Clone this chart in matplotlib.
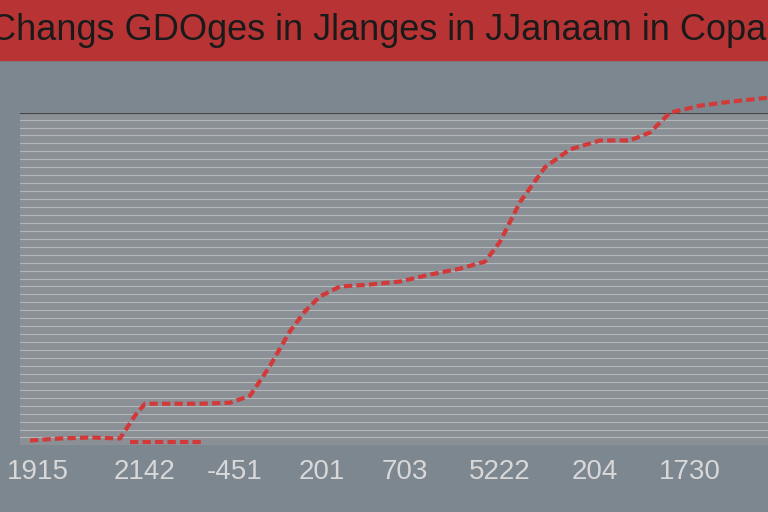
import matplotlib
matplotlib.use("Agg")
import matplotlib.pyplot as plt

x_pos = [30, 60, 90, 120, 135, 145, 170, 200, 230, 250, 270, 290, 305, 320, 340, 370, 400, 430, 460, 485, 500, 520, 545, 570, 600, 630, 650, 670, 700, 730, 768]
values = [5, 7, 8, 7, 30, 42, 42, 42, 43, 50, 80, 115, 135, 150, 160, 162, 165, 172, 178, 185, 205, 245, 280, 298, 307, 307, 315, 335, 342, 346, 350]
low_x = [130, 160, 205]
low_v = [3, 3, 3]
tick_pos = [38, 145, 235, 322, 405, 500, 595, 690]
tick_labels = ["1915", "2142", "-451", "201", "703", "5222", "204", "1730"]

fig = plt.figure(figsize=(7.68, 5.12), dpi=100)
fig.patch.set_facecolor("#7d8790")
fig.patches.append(plt.Rectangle((0, 0.883), 1, 0.117, transform=fig.transFigure, color="#b83434", zorder=0))
fig.text(0.5, 0.94, "Changs GDOges in Jlanges in JJanaam in Copar", ha="center", va="center",
         fontsize=26, color="#1a1a1a", family="Liberation Sans")

ax = fig.add_axes([0.026, 0.13, 0.974, 0.65])
ax.set_facecolor("#8b9096")
ax.set_xlim(20, 768)
ax.set_ylim(0, 335)
ax.set_yticks(range(0, 336, 8))
ax.yaxis.grid(True, color="#b4b7ba", lw=0.8)
ax.tick_params(axis="y", labelleft=False, length=0)
ax.set_xticks(tick_pos)
ax.set_xticklabels(tick_labels, fontsize=20, color="#d8d8d8", family="Liberation Sans")
ax.tick_params(axis="x", length=0, pad=10)
for s in ax.spines.values():
    s.set_visible(False)
ax.axhline(335, color="#444", lw=1.5)
ax.plot(x_pos, values, color="#d23a3a", lw=3, ls=(0, (2, 1)), clip_on=False)
ax.plot(low_x, low_v, color="#d23a3a", lw=3, ls=(0, (2, 1)))
fig.savefig("out.png", dpi=100)
